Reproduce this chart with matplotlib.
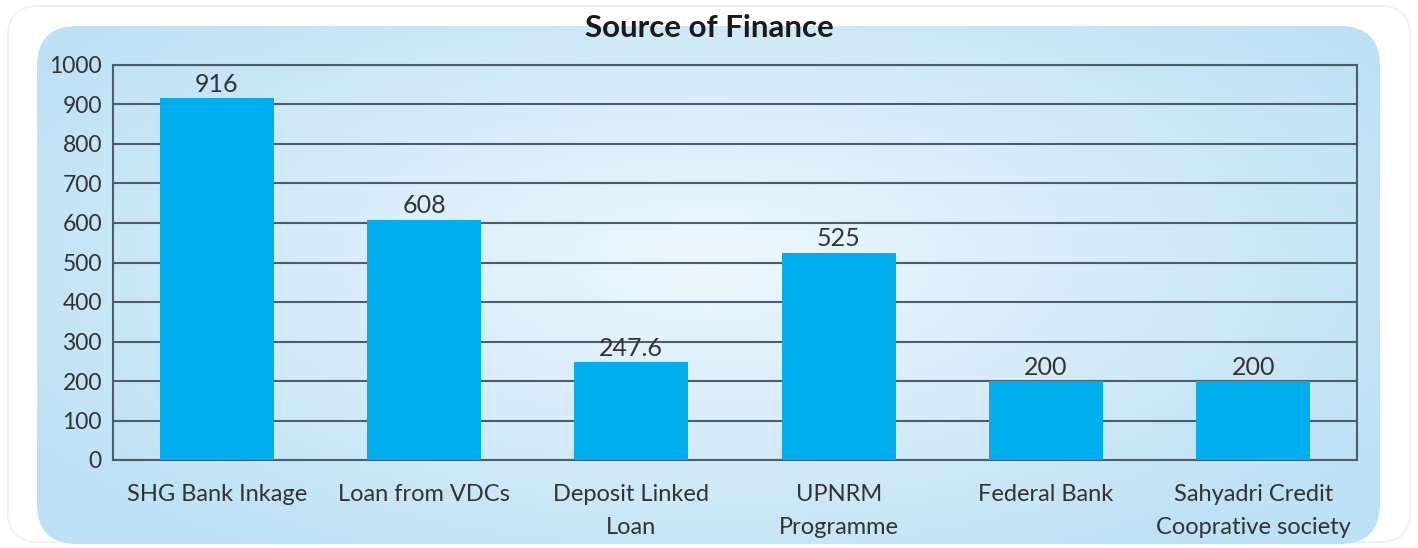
import numpy as np
import matplotlib.pyplot as plt
from matplotlib.patches import FancyBboxPatch

# data
categories = ["SHG Bank Inkage", "Loan from VDCs", "Deposit Linked\nLoan",
              "UPNRM\nProgramme", "Federal Bank", "Sahyadri Credit\nCooprative society"]
values = [916, 608, 247.6, 525, 200, 200]
value_labels = ["916", "608", "247.6", "525", "200", "200"]
yticks = [0, 100, 200, 300, 400, 500, 600, 700, 800, 900, 1000]

W, H = 1418, 548
fig = plt.figure(figsize=(W / 100, H / 100), dpi=100)
plt.rcParams['font.family'] = ['Lato', 'DejaVu Sans']

# background panel
bg = fig.add_axes([0, 0, 1, 1])
bg.set_xlim(0, W)
bg.set_ylim(H, 0)
bg.axis("off")

outer = FancyBboxPatch((8, 6), W - 16, H - 12, boxstyle="round,pad=0,rounding_size=30",
                       facecolor="white", edgecolor="#eef3f6", lw=1.5)
bg.add_patch(outer)

panel = FancyBboxPatch((37, 26), 1343, 518, boxstyle="round,pad=0,rounding_size=40",
                       facecolor="none", edgecolor="none")
bg.add_patch(panel)
yy, xx = np.mgrid[0:1:200j, 0:1:400j]
r = np.sqrt(((xx - 0.5) / 0.6) ** 2 + ((yy - 0.45) / 0.7) ** 2)
r = np.clip(r, 0, 1)
c_in = np.array([0.93, 0.97, 0.99])
c_out = np.array([0.74, 0.88, 0.96])
img = c_in[None, None, :] * (1 - r[..., None]) + c_out[None, None, :] * r[..., None]
im = bg.imshow(img, extent=(37, 1380, 544, 26), aspect="auto", zorder=1)
im.set_clip_path(panel)

# chart
ax = fig.add_axes([113 / W, 1 - 460 / H, (1357 - 113) / W, (460 - 65) / H])
ax.patch.set_alpha(0)
x = np.arange(len(categories))
bars = ax.bar(x, values, width=0.55, color="#00aeef", zorder=3)
ax.set_xlim(-0.5, len(categories) - 0.5)
ax.set_ylim(0, 1000)
ax.set_yticks(yticks)
ax.yaxis.grid(True, color="#4d5d69", lw=1.5, zorder=1)
ax.set_axisbelow(True)
for s in ax.spines.values():
    s.set_color("#4d5d69")
    s.set_linewidth(1.5)
ax.tick_params(axis="both", length=0, colors="#333333")
ax.tick_params(axis="y", pad=8, labelsize=16.5)
ax.tick_params(axis="x", pad=17, labelsize=17)
ax.set_xticks(x)
ax.set_xticklabels(categories, linespacing=1.75)
ax.set_yticklabels([str(t) for t in yticks])

for xi, v, lab in zip(x, values, value_labels):
    ax.text(xi, v + 6, lab, ha="center", va="bottom", fontsize=18, color="#333333", zorder=4)

fig.text(0.5, 1 - 28 / H, "Source of Finance", ha="center", va="center",
         fontsize=22.5, fontweight="bold", color="#1a1a1a")

fig.savefig("out.png", dpi=100)
